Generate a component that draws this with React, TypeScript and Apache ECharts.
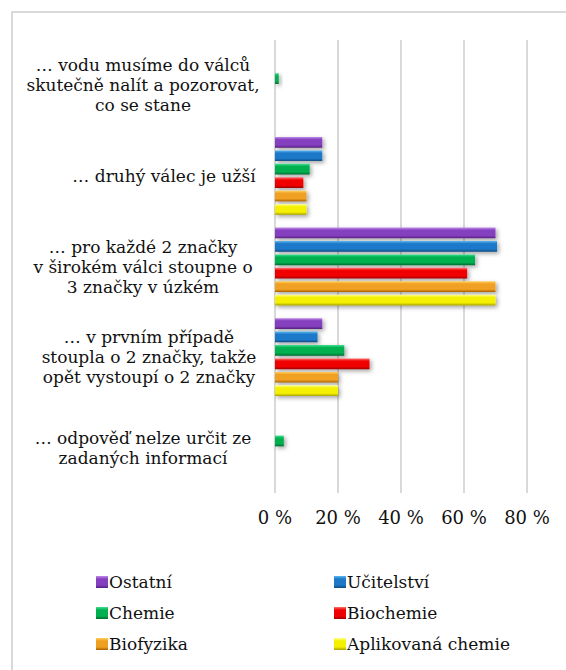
import React, { useEffect, useRef } from "react";
import * as echarts from "echarts";

const categories = [
  "… vodu musíme do válců\nskutečně nalít a pozorovat,\nco se stane",
  "… druhý válec je užší",
  "… pro každé 2 značky\nv širokém válci stoupne o\n3 značky v úzkém",
  "… v prvním případě\nstoupla o 2 značky, takže\nopět vystoupí o 2 značky",
  "… odpověď nelze určit ze\nzadaných informací",
];

const seriesNames = ["Ostatní", "Učitelství", "Chemie", "Biochemie", "Biofyzika", "Aplikovaná chemie"];

const ostatni = [0, 15, 70, 15, 0];
const ucitelstvi = [0, 15, 70.5, 13.5, 0];
const chemie = [1.2, 11, 63.5, 22, 2.8];
const biochemie = [0, 9, 61, 30, 0];
const biofyzika = [0, 10, 70, 20, 0];
const aplikovana = [0, 10, 70, 20, 0];

const seriesValues = [ostatni, ucitelstvi, chemie, biochemie, biofyzika, aplikovana];

const xTicks = [0, 20, 40, 60, 80];

// [highlight, main, dark]
const palettes = [
  ["#c08ae8", "#8540c0", "#55207f"],
  ["#5ab8f0", "#1f78c8", "#104a80"],
  ["#40e090", "#00b050", "#006a30"],
  ["#ff7070", "#f00000", "#a00000"],
  ["#ffd060", "#f0a020", "#a86000"],
  ["#ffff90", "#f4f000", "#a8a000"],
];

const FONT = "DejaVu Serif";
const TXT = "#111111";

export default function App() {
  const ref = useRef<HTMLDivElement>(null);
  useEffect(() => {
    if (!ref.current) return;
    const chart = echarts.init(ref.current, undefined, { renderer: "svg" });
    const grad = (p: string[]) =>
      new echarts.graphic.LinearGradient(0, 0, 0, 1, [
        { offset: 0, color: p[0] },
        { offset: 0.25, color: p[1] },
        { offset: 0.75, color: p[1] },
        { offset: 1, color: p[2] },
      ]);
    const series = seriesNames.map((name, i) => ({
      name,
      type: "bar",
      data: seriesValues[i],
      barCategoryGap: "14%",
      barGap: "25%",
      itemStyle: {
        color: grad(palettes[i]),
        borderWidth: 0,
        shadowBlur: 4,
        shadowOffsetX: 2,
        shadowOffsetY: 2,
        shadowColor: "rgba(0,0,0,0.35)",
      },
    }));
    const legendCommon = {
      orient: "vertical",
      icon: "rect",
      itemWidth: 12,
      itemHeight: 12,
      itemGap: 11,
      textStyle: { fontFamily: FONT, fontSize: 17, color: TXT, lineHeight: 20, padding: [0, 0, 0, -4] },
    };
    chart.setOption({
      animation: false,
      backgroundColor: "#ffffff",
      textStyle: { fontFamily: FONT },
      graphic: [
        {
          type: "rect",
          shape: { x: 12, y: 12, width: 600, height: 700 },
          style: { fill: "none", stroke: "#d9d9d9", lineWidth: 2 },
          silent: true,
        },
      ],
      grid: { left: 275, right: 39, top: 40, bottom: 177, containLabel: false },
      xAxis: {
        type: "value",
        min: 0,
        max: 80,
        interval: 20,
        axisLine: { show: false },
        axisTick: { show: false },
        splitLine: { show: true, lineStyle: { color: "#d9d9d9", width: 2 } },
        axisLabel: {
          margin: 15,
          fontFamily: FONT,
          fontSize: 18,
          color: TXT,
          formatter: (v: number) => (xTicks.includes(v) ? `${v} %` : ""),
        },
      },
      yAxis: {
        type: "category",
        inverse: true,
        data: categories,
        axisLine: { show: false },
        axisTick: { show: false },
        axisLabel: {
          align: "center",
          margin: 132,
          fontFamily: FONT,
          fontSize: 17,
          lineHeight: 20,
          color: TXT,
          formatter: (v: string, i: number) => (i === 1 ? `{p|${v}}` : i === 3 ? `{q|${v.split("\n").join("}\n{q|")}}` : v),
          rich: {
            p: { fontFamily: FONT, fontSize: 17, lineHeight: 20, color: TXT, padding: [0, 0, 0, 42] },
            q: { fontFamily: FONT, fontSize: 17, lineHeight: 20, color: TXT, padding: [0, 0, 0, 12] },
          },
        },
      },
      legend: [
        { ...legendCommon, left: 91, top: 567, data: [seriesNames[0], seriesNames[2], seriesNames[4]] },
        { ...legendCommon, left: 329, top: 567, data: [seriesNames[1], seriesNames[3], seriesNames[5]] },
      ],
      series,
    });
    return () => chart.dispose();
  }, []);
  return <div ref={ref} style={{ position: "fixed", left: 0, top: 0, width: 566, height: 670 }} />;
}
